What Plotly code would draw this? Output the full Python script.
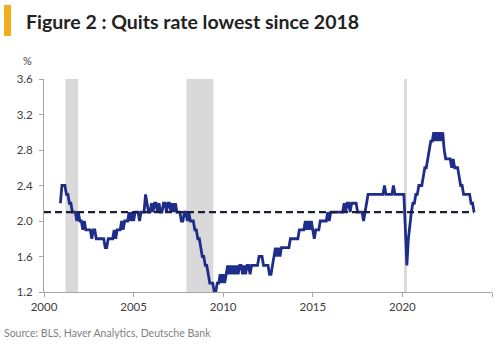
import plotly.graph_objects as go

# ---------------- data ----------------
start_year = 2000
start_month = 12  # series starts Dec 2000, monthly

quits_rate = [
    2.2,                                                            # 2000 Dec
    2.4, 2.4, 2.4, 2.3, 2.3, 2.2, 2.2, 2.1, 2.1, 2.1, 2.0, 2.1,     # 2001
    2.0, 2.0, 1.9, 2.0, 1.9, 1.9, 1.9, 1.9, 1.8, 1.9, 1.9, 1.8,     # 2002
    1.8, 1.8, 1.8, 1.8, 1.8, 1.7, 1.7, 1.8, 1.8, 1.8, 1.8, 1.9,     # 2003
    1.8, 1.9, 1.9, 1.9, 2.0, 1.9, 2.0, 2.0, 2.0, 2.1, 2.0, 2.1,     # 2004
    2.0, 2.1, 2.1, 2.1, 2.0, 2.1, 2.1, 2.1, 2.3, 2.2, 2.1, 2.1,     # 2005
    2.2, 2.1, 2.2, 2.2, 2.1, 2.2, 2.1, 2.1, 2.2, 2.2, 2.1, 2.2,     # 2006
    2.2, 2.1, 2.2, 2.1, 2.2, 2.1, 2.1, 2.1, 2.0, 2.0, 2.1, 2.1,     # 2007
    2.0, 2.1, 2.0, 2.0, 2.0, 1.9, 1.9, 1.8, 1.8, 1.7, 1.6, 1.6,     # 2008
    1.5, 1.5, 1.4, 1.3, 1.3, 1.3, 1.2, 1.2, 1.3, 1.3, 1.4, 1.3,     # 2009
    1.4, 1.3, 1.4, 1.5, 1.4, 1.5, 1.4, 1.5, 1.4, 1.5, 1.4, 1.5,     # 2010
    1.5, 1.4, 1.5, 1.4, 1.5, 1.5, 1.4, 1.5, 1.5, 1.5, 1.5, 1.5,     # 2011
    1.6, 1.6, 1.6, 1.5, 1.5, 1.5, 1.5, 1.4, 1.4, 1.5, 1.6, 1.7,     # 2012
    1.6, 1.7, 1.6, 1.7, 1.7, 1.7, 1.7, 1.7, 1.7, 1.8, 1.8, 1.8,     # 2013
    1.8, 1.8, 1.8, 1.9, 1.9, 1.9, 1.9, 2.0, 1.9, 2.0, 1.9, 2.0,     # 2014
    1.9, 1.8, 1.9, 1.9, 1.9, 2.0, 2.0, 2.0, 2.0, 2.0, 2.1, 2.0,     # 2015
    2.1, 2.1, 2.1, 2.1, 2.1, 2.1, 2.1, 2.1, 2.1, 2.2, 2.1, 2.2,     # 2016
    2.2, 2.1, 2.2, 2.2, 2.2, 2.2, 2.1, 2.1, 2.1, 2.1, 2.0, 2.1,     # 2017
    2.2, 2.3, 2.3, 2.3, 2.3, 2.3, 2.3, 2.3, 2.3, 2.3, 2.3, 2.3,     # 2018
    2.4, 2.3, 2.3, 2.3, 2.3, 2.3, 2.4, 2.3, 2.3, 2.3, 2.3, 2.3,     # 2019
    2.3, 2.3, 1.9, 1.5, 1.8, 2.0, 2.1, 2.2, 2.2, 2.3, 2.3, 2.4,     # 2020
    2.4, 2.4, 2.5, 2.6, 2.6, 2.7, 2.8, 2.9, 2.9, 3.0, 2.9, 3.0,     # 2021
    2.9, 3.0, 2.9, 3.0, 2.8, 2.7, 2.7, 2.7, 2.7, 2.6, 2.7, 2.6,     # 2022
    2.6, 2.6, 2.5, 2.4, 2.4, 2.3, 2.3, 2.3, 2.3, 2.3, 2.2, 2.2,     # 2023
    2.1,                                                            # 2024 Jan
]

average_level = 2.1

recession_starts = [2001.2, 2007.95, 2020.1]
recession_ends = [2001.9, 2009.45, 2020.25]

x_tick_values = [2000, 2005, 2010, 2015, 2020, 2025]
x_tick_labels = ["2000", "2005", "2010", "2015", "2020", ""]
y_tick_values = [1.2, 1.6, 2.0, 2.4, 2.8, 3.2, 3.6]
y_tick_labels = ["1.2", "1.6", "2.0", "2.4", "2.8", "3.2", "3.6"]

title_text = "Figure 2 : Quits rate lowest since 2018"
source_text = "Source: BLS, Haver Analytics, Deutsche Bank"

# ---------------- figure ----------------
W, H = 500, 347
L, R, T, B = 44, 8, 79, 55
PW, PH = W - L - R, H - T - B


def px(xp):
    return (xp - L) / PW


def py(yp):
    return (H - B - yp) / PH


dates = [start_year + (start_month - 1 + i) / 12 for i in range(len(quits_rate))]

fig = go.Figure()

fig.add_trace(go.Scatter(
    x=dates, y=quits_rate, mode="lines",
    line=dict(color="#1f2d8a", width=2.8),
    hoverinfo="skip", showlegend=False,
))

fig.add_trace(go.Scatter(
    x=[2000, dates[-1]], y=[average_level, average_level], mode="lines",
    line=dict(color="#1c1f33", width=2.4, dash="7px,4px"),
    hoverinfo="skip", showlegend=False,
))

shapes = []
for s, e in zip(recession_starts, recession_ends):
    shapes.append(dict(type="rect", xref="x", yref="y", x0=s, x1=e,
                       y0=y_tick_values[0], y1=y_tick_values[-1],
                       fillcolor="#d9d9d9", line=dict(width=0), layer="below"))

# orange title marker
shapes.append(dict(type="rect", xref="paper", yref="paper",
                   x0=px(4), x1=px(11), y0=py(36), y1=py(5),
                   fillcolor="#F2AE1C", line=dict(width=0)))

annotations = [
    dict(text="<b>" + title_text + "</b>", xref="paper", yref="paper",
         x=px(24), y=py(21), xanchor="left", yanchor="middle", showarrow=False,
         font=dict(family="Lato", size=19.5, color="#222222")),
    dict(text="%", xref="paper", yref="paper",
         x=px(27), y=py(61), xanchor="center", yanchor="middle", showarrow=False,
         font=dict(family="Lato", size=11, color="#404040")),
    dict(text=source_text, xref="paper", yref="paper",
         x=px(2), y=py(333), xanchor="left", yanchor="middle", showarrow=False,
         font=dict(family="Lato", size=10.5, color="#7f7f7f")),
]

fig.update_layout(
    width=W, height=H,
    margin=dict(l=L, r=R, t=T, b=B),
    paper_bgcolor="white", plot_bgcolor="white",
    shapes=shapes, annotations=annotations,
    showlegend=False,
    xaxis=dict(range=[2000, 2025], tickvals=x_tick_values, ticktext=x_tick_labels,
               showgrid=False, zeroline=False, showline=True,
               linecolor="#a6a6a6", linewidth=1, ticks="outside", ticklen=4,
               tickcolor="#a6a6a6",
               tickfont=dict(family="Lato", size=11.5, color="#404040")),
    yaxis=dict(range=[1.2, 3.6], tickvals=y_tick_values, ticktext=y_tick_labels,
               showgrid=False, zeroline=False, showline=True,
               linecolor="#a6a6a6", linewidth=1, ticks="outside", ticklen=4,
               tickcolor="#a6a6a6", ticklabelstandoff=4,
               tickfont=dict(family="Lato", size=11.5, color="#404040")),
)

fig.write_html("out.html")
